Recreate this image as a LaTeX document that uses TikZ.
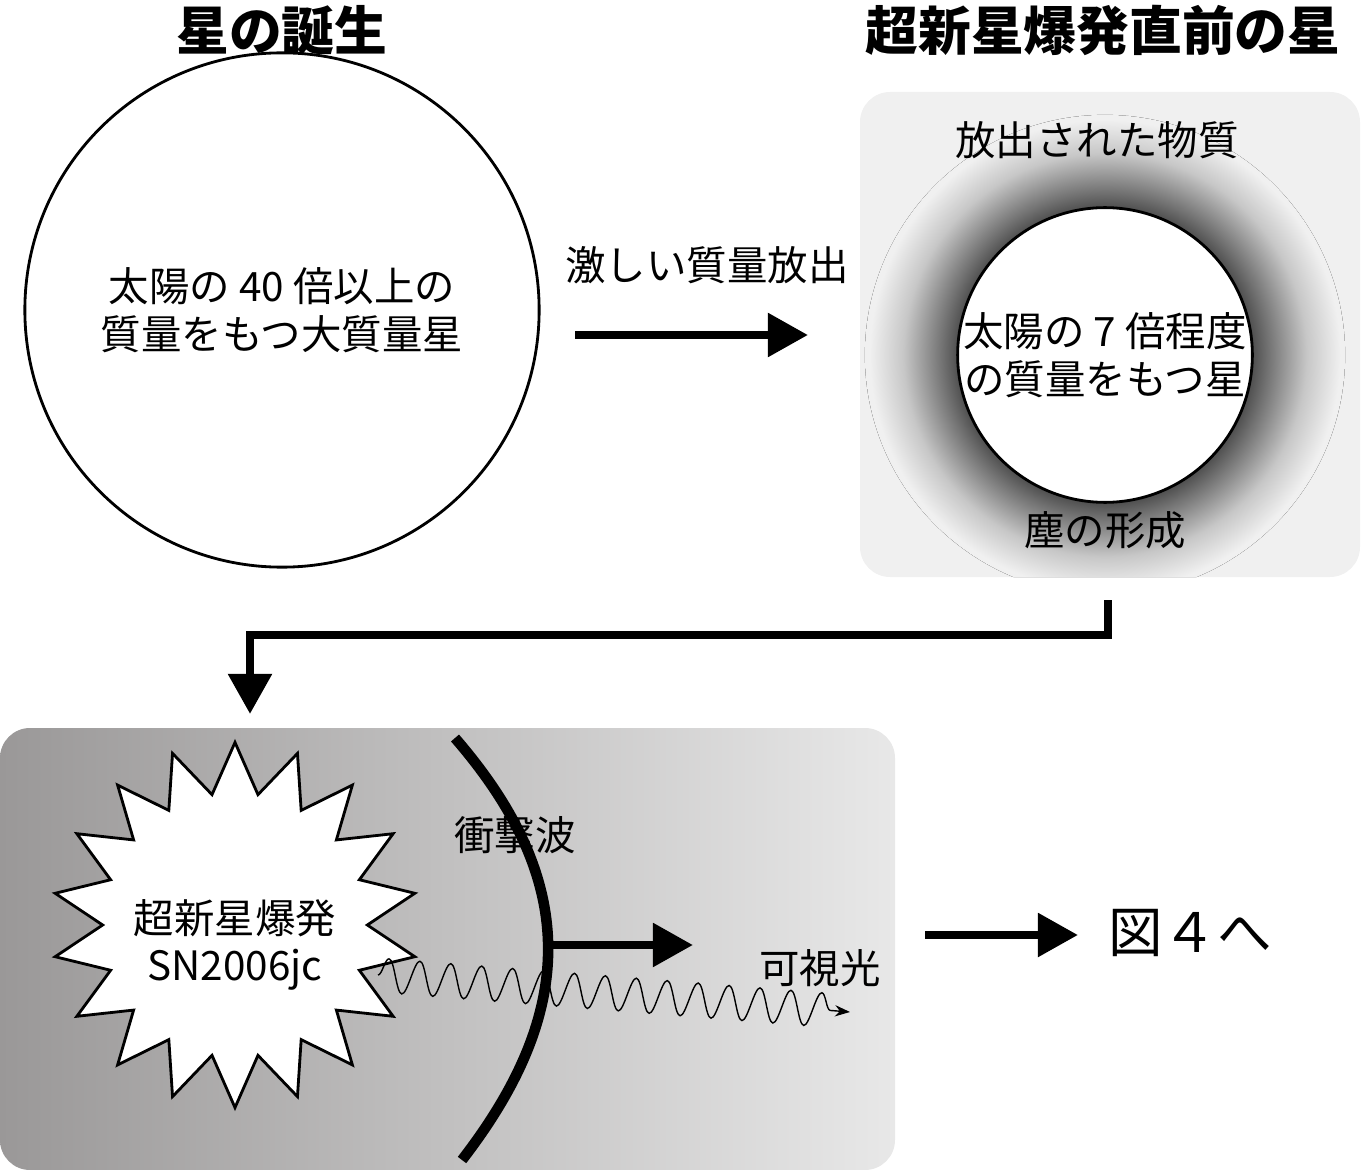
\documentclass[tikz,border=0pt]{standalone}
\usepackage{fontspec}
\setmainfont{Noto Sans CJK JP}
\usetikzlibrary{shapes.geometric,arrows.meta,decorations.pathmorphing,positioning}
\definecolor{panelgray}{RGB}{240,240,240}
\definecolor{darkside}{RGB}{154,152,152}
\definecolor{lightside}{RGB}{232,232,232}
\pgfdeclareradialshading{halo}{\pgfpoint{0cm}{0cm}}{color(0bp)=(black!75); color(15bp)=(black!72); color(17bp)=(black!55); color(21bp)=(black!22); color(24.5bp)=(panelgray); color(50bp)=(panelgray)}

\begin{document}
\begin{tikzpicture}[
    x=0.01cm, y=-0.01cm,
    title/.style={font=\bfseries\fontsize{15}{17}\selectfont},
    label/.style={font=\fontsize{11.5}{13.5}\selectfont, align=center},
    star/.style={circle, draw, fill=white, line width=0.8pt, align=center, font=\fontsize{11.5}{13.5}\selectfont},
    bigarrow/.style={line width=2.4pt, -{Triangle[length=0.4cm,width=0.42cm]}}
]
\useasboundingbox (0,0) rectangle (1363,1170);

% top row
\node[title] (t1) at (282,30) {星の誕生};
\node[title] (t2) at (1103,30) {超新星爆発直前の星};
\node[star, minimum size=5.14cm] (big) at (282,310) {太陽の 40 倍以上の\\質量をもつ大質量星};

\fill[panelgray, rounded corners=0.3cm] (860,92) rectangle (1360,577);
\begin{scope}
  \clip[rounded corners=0.3cm] (860,92) rectangle (1360,577);
  \fill[shading=halo] (1105,355) circle[radius=2.4cm];
\end{scope}
\node[star, minimum size=2.94cm, inner sep=0pt] (small) at (1105,355) {太陽の 7 倍程度\\の質量をもつ星};
\node[label] (ejecta) at (1097,140) {放出された物質};
\node[label] (dust) at (1105,530) {塵の形成};

\node[label] (loss) at (707,265) {激しい質量放出};
\coordinate (a1) at (575,335);
\coordinate (a2) at (808,335);
\draw[bigarrow] (a1) -- (a2);

% elbow connector
\coordinate (e1) at (1108,600);
\coordinate (e2) at (1108,635);
\coordinate (e3) at (250,635);
\coordinate (e4) at (250,714);
\draw[bigarrow] (e1) -- (e2) -- (e3) -- (e4);

% bottom panel
\shade[left color=darkside, right color=lightside, rounded corners=0.3cm] (0,728) rectangle (895,1170);
\node[star, shape=star, star points=18, star point ratio=1.38, minimum size=3.65cm, inner sep=0pt] (sn) at (235,925) {};
\node[label] (sntext) at (235,945) {超新星爆発\\SN2006jc};

\coordinate (s1) at (455,738);
\coordinate (s2) at (462,1160);
\draw[line width=3pt] (s1) .. controls (578,880) and (578,1010) .. (s2);
\node[label] (shock) at (515,835) {衝撃波};

\coordinate (w1) at (548,945);
\coordinate (w2) at (693,945);
\draw[bigarrow] (w1) -- (w2);

\coordinate (l1) at (378,975);
\coordinate (l2) at (850,1012);
\draw[decorate, decoration={snake, segment length=0.31cm, amplitude=0.17cm, post length=0.15cm}, -{Stealth[length=0.15cm]}] (l1) -- (l2);
\node[label] (light) at (820,968) {可視光};

\coordinate (n1) at (925,935);
\coordinate (n2) at (1078,935);
\draw[bigarrow] (n1) -- (n2);
\node[font=\fontsize{15.5}{17}\selectfont] (fig4) at (1190,933) {図４へ};

\end{tikzpicture}
\end{document}
